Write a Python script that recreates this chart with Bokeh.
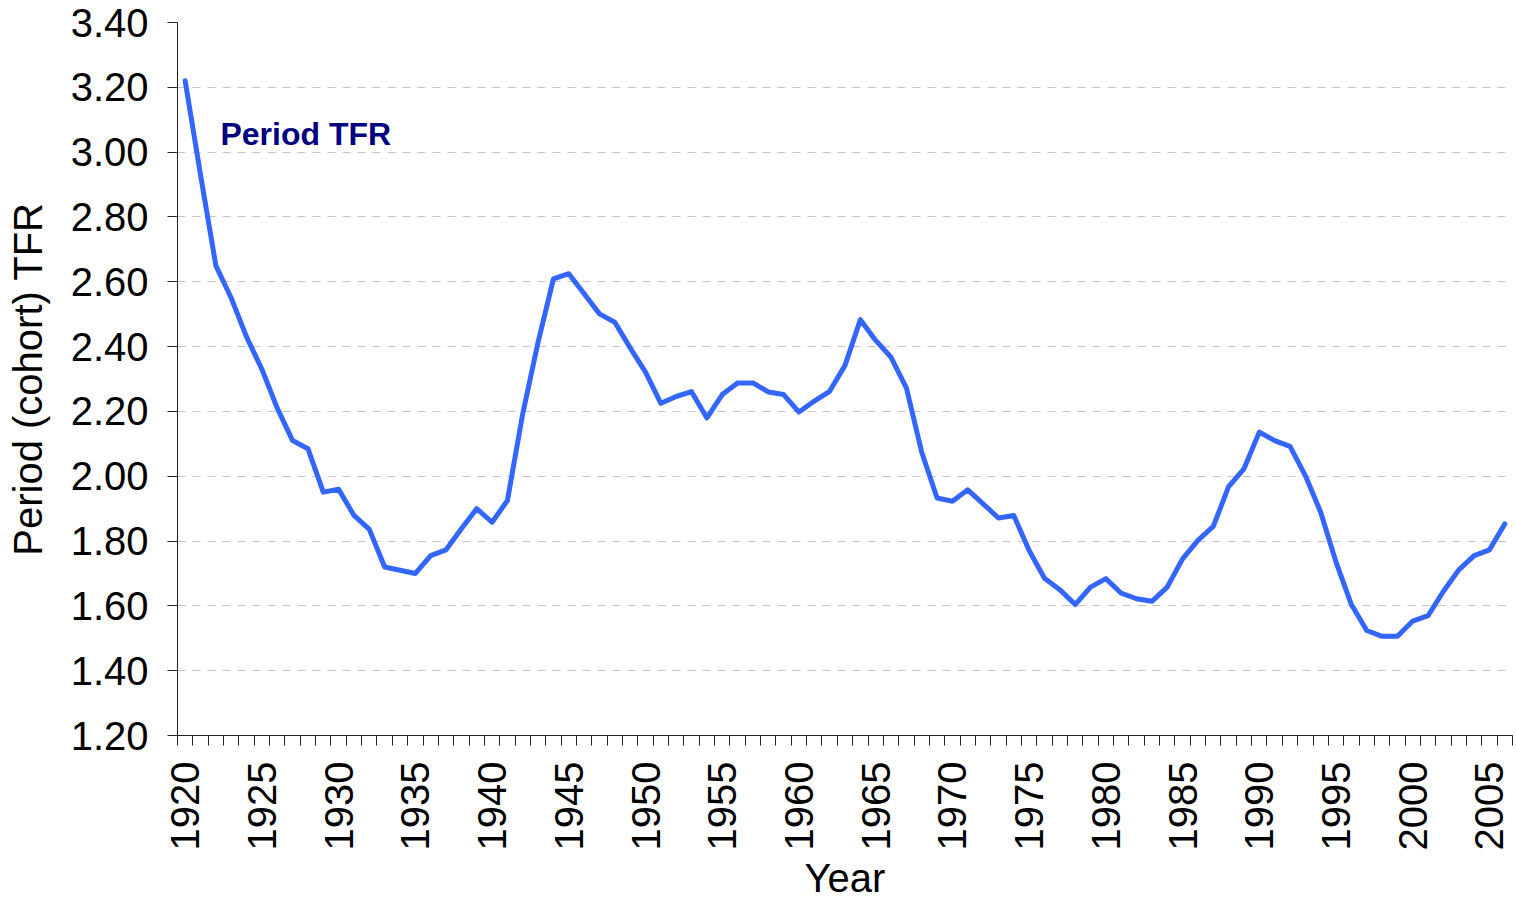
import math
from bokeh.plotting import figure
from bokeh.models import Range1d, FixedTicker, Label, NumeralTickFormatter
from bokeh.embed import file_html
from bokeh.resources import INLINE

# ---- data ----
years = list(range(1920, 2007))
period_tfr = [
    3.22, 2.93, 2.65, 2.55, 2.43, 2.33, 2.21, 2.11, 2.085, 1.951,
    1.96, 1.879, 1.836, 1.72, 1.71, 1.70, 1.755, 1.773, 1.838, 1.90,
    1.858, 1.925, 2.193, 2.414, 2.609, 2.625, 2.563, 2.501, 2.475, 2.396,
    2.321, 2.225, 2.246, 2.261, 2.18, 2.252, 2.288, 2.288, 2.26, 2.252,
    2.198, 2.232, 2.262, 2.342, 2.483, 2.419, 2.367, 2.273, 2.074, 1.933,
    1.923, 1.958, 1.915, 1.871, 1.879, 1.771, 1.685, 1.65, 1.604, 1.658,
    1.684, 1.639, 1.622, 1.614, 1.658, 1.745, 1.802, 1.845, 1.968, 2.023,
    2.136, 2.11, 2.092, 2.002, 1.889, 1.735, 1.604, 1.524, 1.506, 1.506,
    1.553, 1.57, 1.645, 1.711, 1.755, 1.773, 1.853,
]
y_ticks = [1.20, 1.40, 1.60, 1.80, 2.00, 2.20, 2.40, 2.60, 2.80, 3.00, 3.20, 3.40]
x_label_years = list(range(1920, 2006, 5))
series_label = "Period TFR"
x_title = "Year"
y_title = "Period (cohort) TFR"

FONT = "Liberation Sans"

p = figure(
    width=1514, height=903,
    x_range=Range1d(years[0] - 0.5, years[-1] + 0.5),
    y_range=Range1d(y_ticks[0], y_ticks[-1]),
    output_backend="svg", toolbar_location=None,
    min_border_left=177, min_border_right=2, min_border_top=22, min_border_bottom=10,
)
p.outline_line_color = None
p.background_fill_color = "white"
p.border_fill_color = "white"

p.line(years, period_tfr, line_width=5, color="#3366FF", line_join="round", line_cap="round")

# x axis: ticks at category boundaries, labels at every 5th category
xt = FixedTicker(ticks=x_label_years,
                 minor_ticks=[y - 0.5 for y in years] + [years[-1] + 0.5])
xa = p.xaxis[0]
xa.ticker = xt
xa.major_tick_line_color = None
xa.major_tick_out = 10
xa.major_tick_in = 0
xa.minor_tick_out = 10
xa.minor_tick_in = 0
xa.minor_tick_line_color = "#222222"
xa.axis_line_color = "#222222"
xa.major_label_orientation = math.pi / 2
xa.major_label_standoff = 16
xa.major_label_text_font = FONT
xa.major_label_text_font_size = "40px"
xa.major_label_text_color = "black"
xa.axis_label = x_title
xa.axis_label_text_font = FONT
xa.axis_label_text_font_size = "40px"
xa.axis_label_text_font_style = "normal"
xa.axis_label_text_color = "black"
xa.axis_label_standoff = 3

ya = p.yaxis[0]
ya.ticker = FixedTicker(ticks=y_ticks, minor_ticks=[])
ya.formatter = NumeralTickFormatter(format="0.00")
ya.major_tick_out = 10
ya.major_tick_in = 0
ya.minor_tick_line_color = None
ya.major_tick_line_color = "#222222"
ya.axis_line_color = "#222222"
ya.major_label_standoff = 19
ya.major_label_text_font = FONT
ya.major_label_text_font_size = "40px"
ya.major_label_text_color = "black"
ya.axis_label = y_title
ya.axis_label_text_font = FONT
ya.axis_label_text_font_size = "40px"
ya.axis_label_text_font_style = "normal"
ya.axis_label_text_color = "black"
ya.axis_label_standoff = 18

p.xgrid.grid_line_color = None
p.ygrid.grid_line_color = "#c4c4c4"
p.ygrid.grid_line_dash = "8 7"
p.ygrid.grid_line_width = 1

p.add_layout(Label(x=1922.3, y=3.057, text=series_label, text_font=FONT,
                   text_font_size="32px", text_font_style="bold",
                   text_color="#000080", text_baseline="alphabetic"))

open("out.html", "w").write(file_html(p, INLINE))
